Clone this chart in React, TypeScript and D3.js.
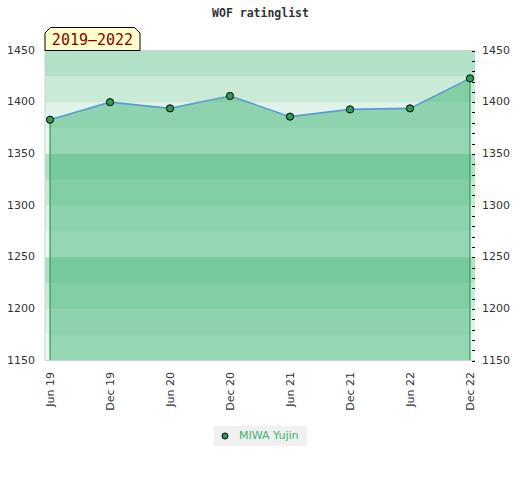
import React from "react";
import * as d3 from "d3";

const title = "WOF ratinglist";
const periodLabel = "2019\u20132022";
const seriesName = "MIWA Yujin";
const dates = ["Jun 19", "Dec 19", "Jun 20", "Dec 20", "Jun 21", "Dec 21", "Jun 22", "Dec 22"];
const ratings = [1383, 1400, 1394, 1406, 1386, 1393, 1394, 1423];
const yTicks = [1150, 1200, 1250, 1300, 1350, 1400, 1450];
const yDomain = [1150, 1450];
const bandStep = 25;
const minorStep = 10;
const bandAlphas = [0.08, 0.16, 0.28, 0.4];

export default function App() {
  const W = 520;
  const H = 480;
  const left = 45;
  const right = 475;
  const top = 50.5;
  const bottom = 360.5;
  const green = "#3cb371";

  const x = d3.scalePoint<string>().domain(dates).range([50, 470]);
  const y = d3.scaleLinear().domain(yDomain).range([bottom, top]);

  const bands = d3.range(yDomain[0], yDomain[1], bandStep);
  const minors = d3.range(yDomain[0], yDomain[1] + 0.001, minorStep);
  const data = dates.map((d, i) => ({ d, v: ratings[i] }));

  const area = d3
    .area<{ d: string; v: number }>()
    .x((p) => x(p.d) as number)
    .y0(bottom)
    .y1((p) => y(p.v));
  const line = d3
    .line<{ d: string; v: number }>()
    .x((p) => x(p.d) as number)
    .y((p) => y(p.v));

  const font = "'DejaVu Sans', sans-serif";
  const mono = "'DejaVu Sans Mono', monospace";
  const first = data[0];
  const last = data[data.length - 1];

  return (
    <svg width={W} height={H} style={{ position: "absolute", left: 0, top: 0 }}>
      <rect x={0} y={0} width={W} height={H} fill="#fff" />
      <text x={260.5} y={17} textAnchor="middle" fontFamily={mono} fontWeight="bold" fontSize={11.5} fill="#333">
        {title}
      </text>
      {bands.map((b, i) => (
        <rect
          key={b}
          x={left}
          y={y(b + bandStep)}
          width={right - left}
          height={y(b) - y(b + bandStep)}
          fill={green}
          fillOpacity={bandAlphas[i % 4]}
        />
      ))}
      <path d={area(data) || ""} fill={green} fillOpacity={0.5} />
      <line x1={x(first.d)} x2={x(first.d)} y1={y(first.v)} y2={bottom} stroke="#2e9a55" strokeWidth={1.2} />
      <line x1={x(last.d)} x2={x(last.d)} y1={y(last.v)} y2={bottom} stroke="#2e9a55" strokeWidth={1.2} />
      <path d={line(data) || ""} fill="none" stroke="#5b9bd5" strokeWidth={1.6} />
      {data.map((p) => (
        <circle key={p.d} cx={x(p.d)} cy={y(p.v)} r={3.6} fill="#2e9e57" stroke="#000" strokeWidth={1} />
      ))}
      <line x1={left} x2={right} y1={top} y2={top} stroke="#d0d0d0" />
      <line x1={left} x2={right} y1={bottom} y2={bottom} stroke="#d0d0d0" />
      <line x1={left} x2={left} y1={top} y2={bottom} stroke="#d0d0d0" />
      {minors.map((m) => (
        <line key={m} x1={472} x2={475} y1={Math.round(y(m)) + 0.5} y2={Math.round(y(m)) + 0.5} stroke="#000" />
      ))}
      {yTicks.map((t) => (
        <g key={t} fontFamily={font} fontSize={11} fill="#333">
          <text x={35} y={y(t)} textAnchor="end" dominantBaseline="middle">
            {t}
          </text>
          <text x={482} y={y(t)} textAnchor="start" dominantBaseline="middle">
            {t}
          </text>
        </g>
      ))}
      {dates.map((d) => (
        <text
          key={d}
          transform={`translate(${(x(d) as number) + 4},372) rotate(-90)`}
          textAnchor="end"
          fontFamily={font}
          fontSize={11}
          fill="#333"
        >
          {d}
        </text>
      ))}
      <path d="M45,50.5 V33 L50.5,27.5 H134.5 L140,33 V50.5 Z" fill="#ffffcc" stroke="#000" strokeWidth={1} />
      <text x={92.5} y={45} textAnchor="middle" fontFamily={mono} fontSize={15} fill="#8b0000">
        {periodLabel}
      </text>
      <rect x={214} y={426} width={93} height={20} fill="#f0f0f0" />
      <circle cx={225} cy={436} r={3} fill="#2e9e57" stroke="#000" strokeWidth={1} />
      <text x={239} y={436} dominantBaseline="middle" fontFamily={font} fontSize={11} fill={green}>
        {seriesName}
      </text>
    </svg>
  );
}
